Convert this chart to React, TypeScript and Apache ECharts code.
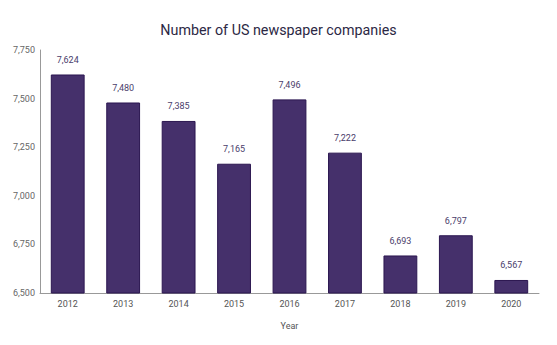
import React, { useEffect, useRef } from "react";
import * as echarts from "echarts";

const years = ["2012", "2013", "2014", "2015", "2016", "2017", "2018", "2019", "2020"];
const companies = [7624, 7480, 7385, 7165, 7496, 7222, 6693, 6797, 6567];
const yTicks = { min: 6500, max: 7750, interval: 250 };

const fmt = (v: number) => v.toLocaleString("en-US");

export default function App() {
  const ref = useRef<HTMLDivElement>(null);
  useEffect(() => {
    document.body.style.margin = "0";
    const chart = echarts.init(ref.current!, undefined, { renderer: "svg" });
    chart.setOption({
      animation: false,
      title: {
        text: "Number of US newspaper companies",
        left: "center",
        top: 18,
        textStyle: { fontFamily: "Roboto", fontSize: 14.3, fontWeight: "normal", color: "#2c2844" },
      },
      grid: { left: 40, right: 18, top: 50, bottom: 52 },
      xAxis: {
        type: "category",
        data: years,
        name: "Year",
        nameLocation: "middle",
        nameGap: 28,
        nameTextStyle: { fontFamily: "Roboto", fontSize: 9, color: "#555" },
        axisLine: { lineStyle: { color: "#999" } },
        axisTick: { show: false },
        axisLabel: { fontFamily: "Roboto", fontSize: 9, color: "#555", margin: 6 },
      },
      yAxis: {
        type: "value",
        min: yTicks.min,
        max: yTicks.max,
        interval: yTicks.interval,
        axisLine: { show: true, lineStyle: { color: "#999" } },
        axisTick: { show: false },
        splitLine: { show: false },
        axisLabel: { fontFamily: "Roboto", fontSize: 9, color: "#666", margin: 5, formatter: (v: number) => fmt(v) },
      },
      series: [
        {
          type: "bar",
          data: companies,
          barWidth: "61%",
          itemStyle: { color: "#45306b", borderColor: "#2b1650", borderWidth: 1 },
          label: {
            show: true,
            position: "top",
            distance: 10,
            fontFamily: "Roboto",
            fontSize: 9,
            color: "#4a3d6b",
            formatter: (p: any) => fmt(p.value),
          },
        },
      ],
    });
    return () => chart.dispose();
  }, []);
  return <div ref={ref} style={{ width: 557, height: 345 }} />;
}
